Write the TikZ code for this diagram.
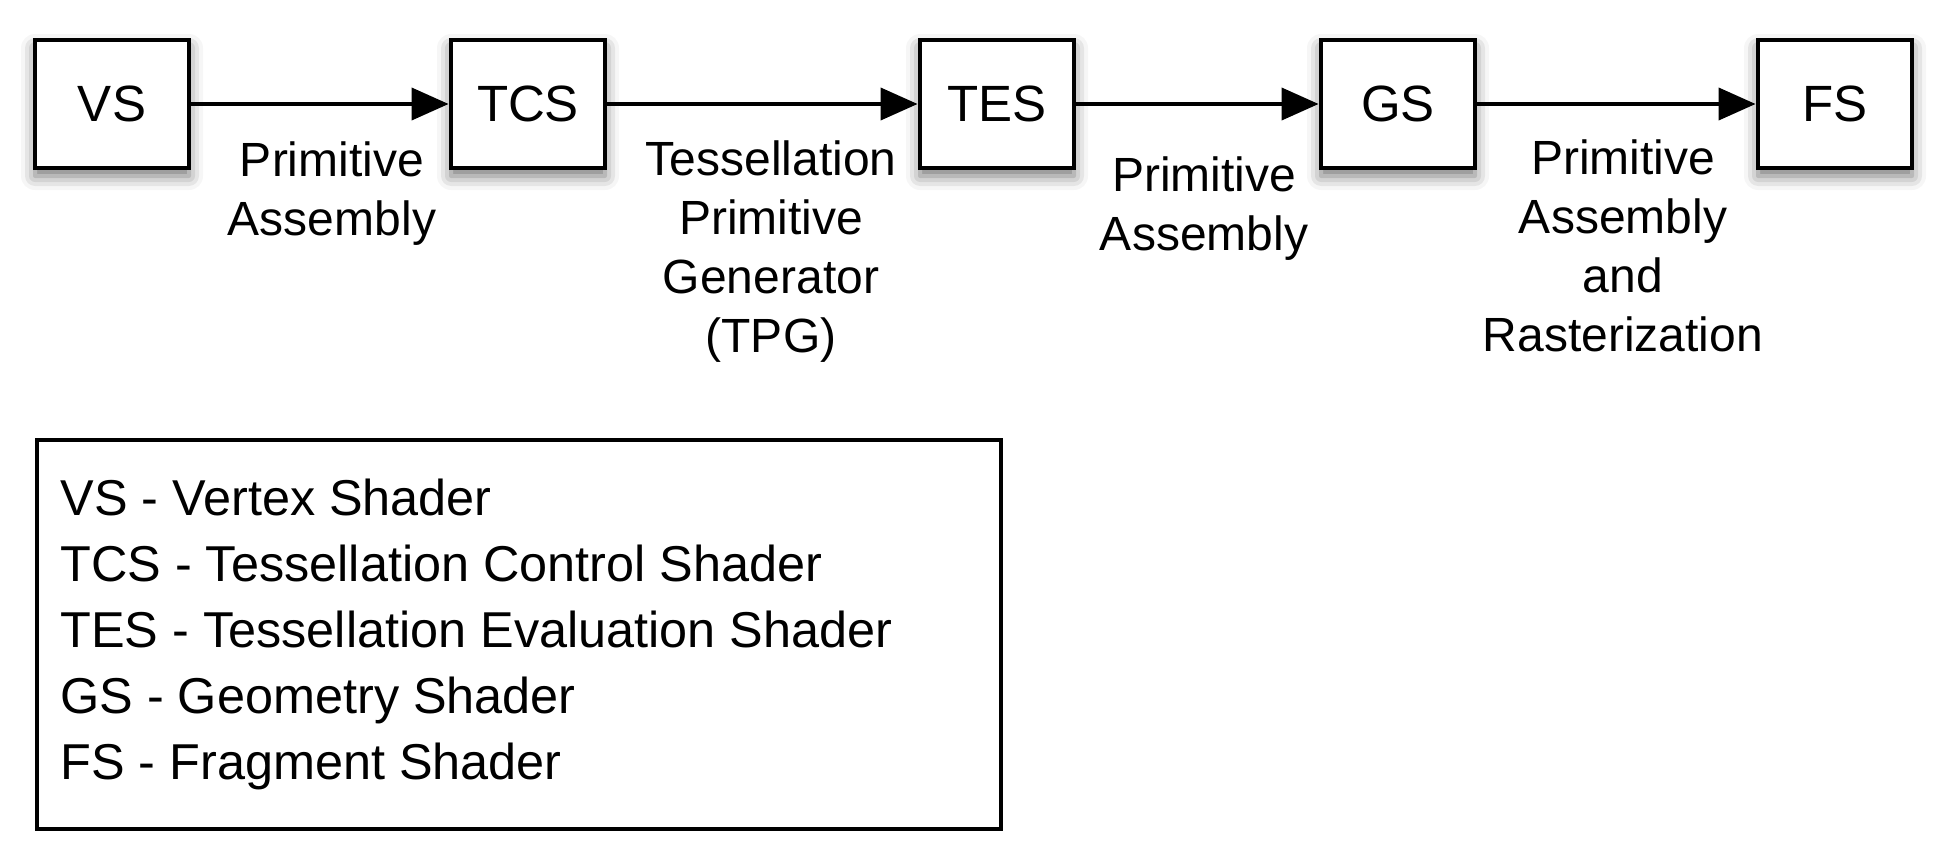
\documentclass[tikz,border=0pt]{standalone}
\usepackage{fontspec}
\setmainfont{Liberation Sans}
\usetikzlibrary{arrows.meta,shadows.blur}
\begin{document}
\begin{tikzpicture}[x=0.5pt,y=-0.5pt,
  shader/.style={draw=black,line width=2.4pt,fill=white,minimum width=77pt,minimum height=64pt,inner sep=0pt,
    font=\fontsize{25.5}{29}\selectfont,
    blur shadow={shadow xshift=0pt,shadow yshift=-4pt,shadow blur radius=7pt,shadow opacity=55}},
  lbl/.style={anchor=north,align=center,inner sep=0pt,font=\fontsize{24}{29.5}\selectfont},
  flow/.style={line width=1.9pt,-{Triangle[length=18.5pt,width=16pt]}}]
\useasboundingbox (0,0) rectangle (1950,851);
\node[shader] (vs) at (112,104) {VS};
\node[shader] (tcs) at (528,104) {TCS};
\node[shader] (tes) at (997,104) {TES};
\node[shader] (gs) at (1398,104) {GS};
\node[shader] (fs) at (1835,104) {FS};
\draw[flow] (vs) -- (tcs);
\draw[flow] (tcs) -- (tes);
\draw[flow] (tes) -- (gs);
\draw[flow] (gs) -- (fs);
\node[lbl] (l1) at (332,141) {Primitive\\Assembly};
\node[lbl] (l2) at (771,140) {Tessellation\\Primitive\\Generator\\(TPG)};
\node[lbl] (l3) at (1204,156) {Primitive\\Assembly};
\node[lbl] (l4) at (1623,139) {Primitive\\Assembly\\and\\Rasterization};
\node[draw=black,line width=2pt,minimum width=482pt,minimum height=194.5pt,anchor=north west,inner sep=0pt] (legend) at (35,438) {};
\node[anchor=north west,align=left,inner sep=0pt,font=\fontsize{25.2}{33}\selectfont] (legendtext) at (60,479)
  {VS - Vertex Shader\\TCS - Tessellation Control Shader\\TES - Tessellation Evaluation Shader\\GS - Geometry Shader\\FS - Fragment Shader};
\end{tikzpicture}
\end{document}
